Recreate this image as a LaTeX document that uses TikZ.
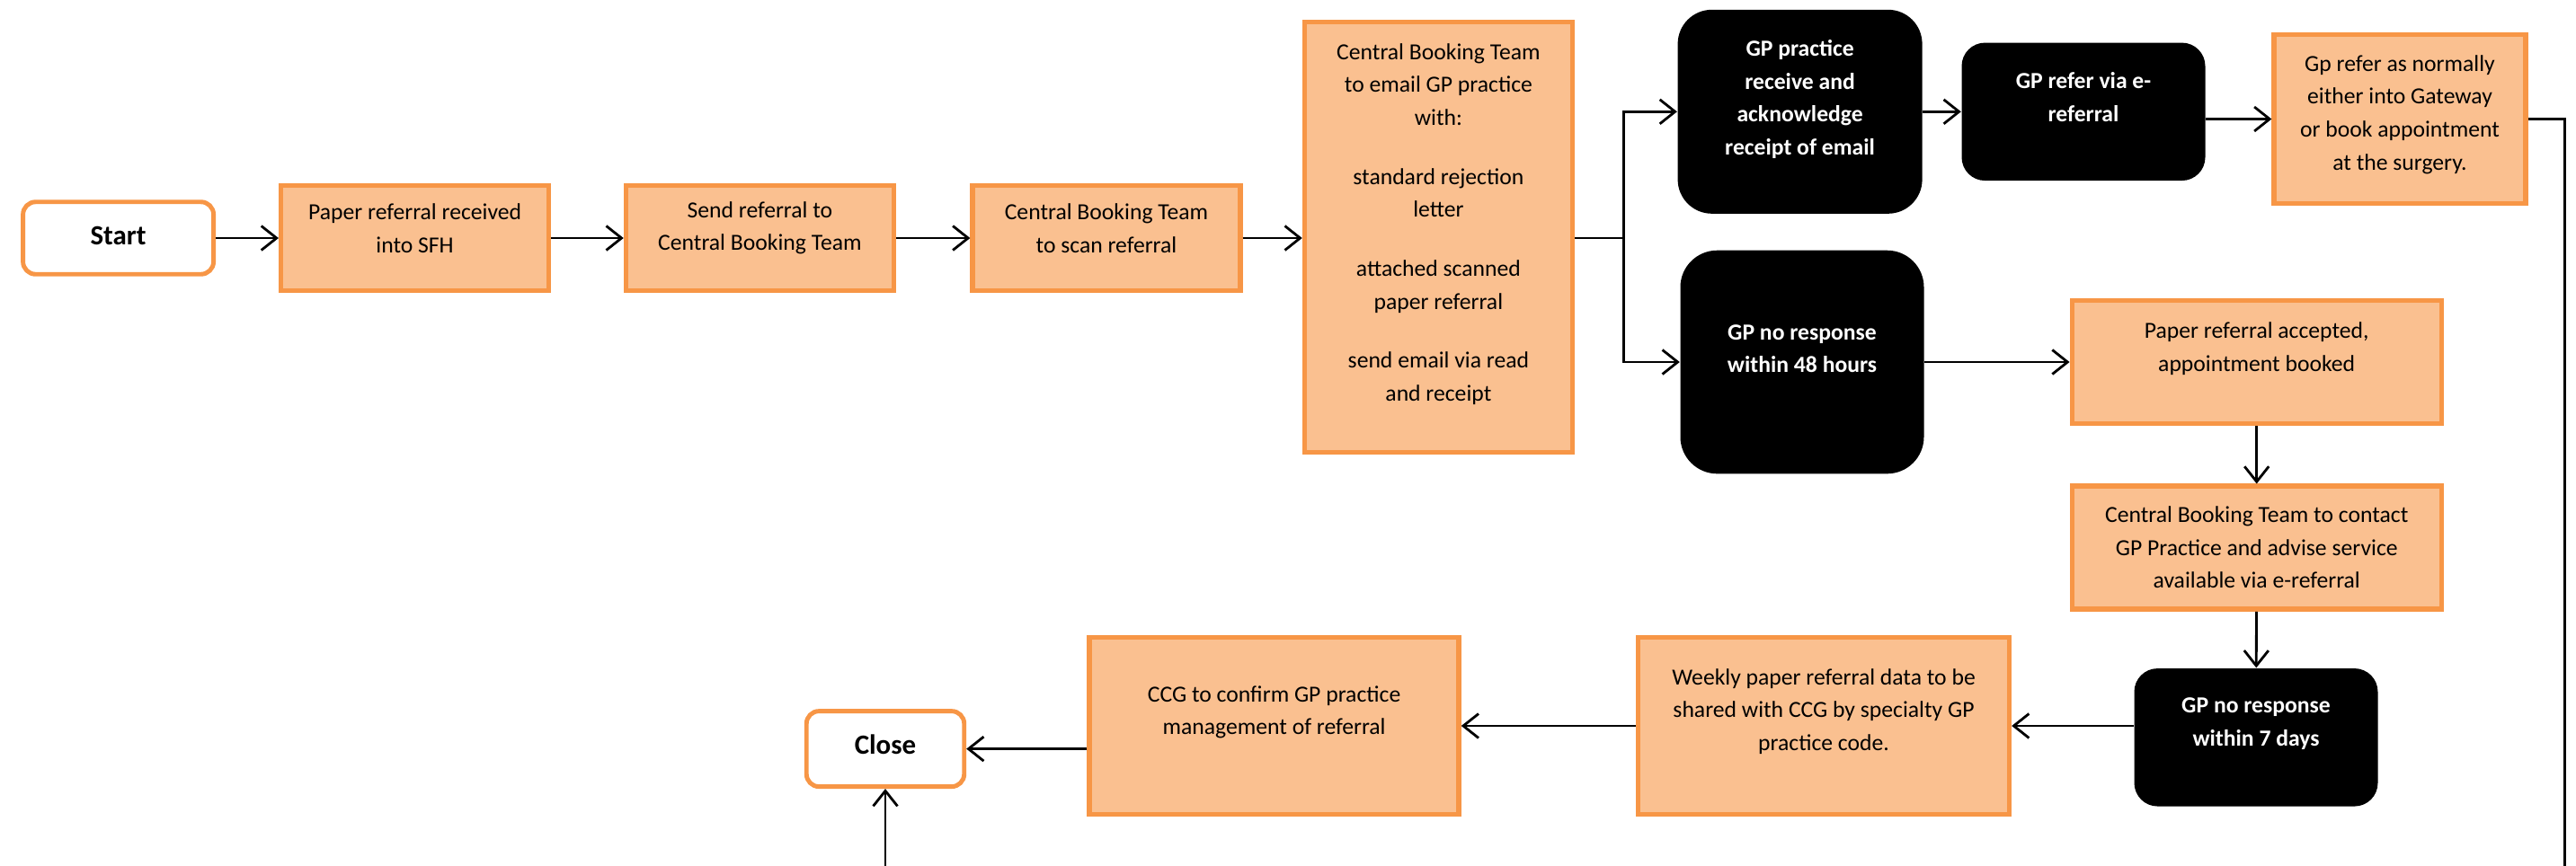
\documentclass[tikz,border=0pt]{standalone}
\usepackage{fontspec}
\setmainfont{Carlito}
\usetikzlibrary{arrows.meta}
\definecolor{boxline}{HTML}{F79646}
\definecolor{boxfill}{HTML}{FAC090}
\begin{document}
\begin{tikzpicture}[
  proc/.style={rectangle,draw=boxline,fill=boxfill,line width=1.5pt,minimum width=2.98cm,minimum height=1.17cm},
  term/.style={rectangle,rounded corners=0.14cm,draw=boxline,fill=white,line width=1.4pt},
  dark/.style={rectangle,fill=black,minimum width=2.71cm},
  txt/.style={align=center,font=\fontsize{7.3}{10.4}\selectfont},
  wtxt/.style={align=center,text=white,font=\fontsize{7.3}{10.4}\selectfont\bfseries},
  ttxt/.style={font=\fontsize{8.8}{10.4}\selectfont\bfseries},
  arr/.style={-{Straight Barb[length=0.17cm,width=0.27cm]},line width=0.8pt}
]
\useasboundingbox (0,0) rectangle (28.66,-9.63);
\node (start) at (1.316,-2.65) [term,minimum width=2.12cm,minimum height=0.805cm] {};
\node (startt) at ([yshift=0.03cm]start) [ttxt] {Start};
\node (a1) at (4.616,-2.65) [proc] {};
\node (a1t) at ([yshift=0.11cm]a1) [txt] {Paper referral received\\into SFH};
\node (a2) at (8.454,-2.65) [proc] {};
\node (a2t) at ([yshift=0.11cm]a2) [txt] {Send referral to\\Central Booking Team};
\node (a3) at (12.31,-2.65) [proc] {};
\node (a3t) at ([yshift=0.11cm]a3) [txt] {Central Booking Team\\to scan referral};
\node (a4) at (16.004,-2.64) [proc,minimum height=4.79cm] {};
\node (a4t) at ([yshift=0.145cm]a4) [txt] {Central Booking Team\\to email GP practice\\with:\\[8.3pt]standard rejection\\letter\\[8.3pt]attached scanned\\paper referral\\[8.3pt]send email via read\\and receipt};
\node (b1) at (20.026,-1.243) [dark,rounded corners=0.38cm,minimum width=2.72cm,minimum height=2.27cm] {};
\node (b1t) at ([yshift=0.14cm]b1) [wtxt] {GP practice\\receive and\\acknowledge\\receipt of email};
\node (b2) at (23.18,-1.243) [dark,rounded corners=0.26cm,minimum height=1.535cm] {};
\node (b2t) at ([yshift=0.16cm]b2) [wtxt] {GP refer via e-\\referral};
\node (b3) at (26.70,-1.325) [proc,minimum width=2.8cm,minimum height=1.88cm] {};
\node (b3t) at ([yshift=0.05cm]b3) [txt] {Gp refer as normally\\either into Gateway\\or book appointment\\at the surgery.};
\node (c1) at (20.05,-4.03) [dark,rounded corners=0.41cm,minimum height=2.486cm] {};
\node (c1t) at ([yshift=0.15cm]c1) [wtxt] {GP no response\\within 48 hours};
\node (c2) at (25.107,-4.03) [proc,minimum width=4.11cm,minimum height=1.37cm] {};
\node (c2t) at ([yshift=0.15cm]c2) [txt] {Paper referral accepted,\\appointment booked};
\node (c3) at (25.107,-6.096) [proc,minimum width=4.11cm,minimum height=1.37cm] {};
\node (c3t) at (c3) [txt] {Central Booking Team to contact\\GP Practice and advise service\\available via e-referral};
\node (c4) at (25.10,-8.208) [dark,rounded corners=0.26cm,minimum height=1.535cm] {};
\node (c4t) at ([yshift=0.15cm]c4) [wtxt] {GP no response\\within 7 days};
\node (d1) at (20.29,-8.08) [proc,minimum width=4.13cm,minimum height=1.974cm] {};
\node (d1t) at ([yshift=0.16cm]d1) [txt] {Weekly paper referral data to be\\shared with CCG by specialty GP\\practice code.};
\node (d2) at (14.176,-8.08) [proc,minimum width=4.11cm,minimum height=1.974cm] {};
\node (d2t) at ([yshift=0.15cm]d2) [txt] {CCG to confirm GP practice\\management of referral};
\node (close) at (9.85,-8.336) [term,minimum width=1.755cm,minimum height=0.84cm] {};
\node (closet) at ([yshift=0.05cm]close) [ttxt] {Close};
\coordinate (rt) at (28.535,-10.5);
\draw[arr] (start) -- (a1);
\draw[arr] (a1) -- (a2);
\draw[arr] (a2) -- (a3);
\draw[arr] (a3.east) -- (a4.west |- a3);
\draw[arr] (a4.east |- a3) -- ++(0.546,0) |- (b1.west);
\draw[arr] (a4.east |- a3) -- ++(0.546,0) |- (c1.west);
\draw[arr] (b1) -- (b2);
\draw[arr] (b2.east |- b3) -- (b3.west);
\draw[arr] (b3.east) -| (rt) -| (close.south);
\draw[arr] (c1) -- (c2);
\draw[arr] (c2) -- (c3);
\draw[arr] (c3) -- (c4);
\draw[arr] (c4.west |- d1) -- (d1.east);
\draw[arr] (d1) -- (d2);
\draw[arr] (d2.west |- close) -- (close.east);
\end{tikzpicture}
\end{document}
